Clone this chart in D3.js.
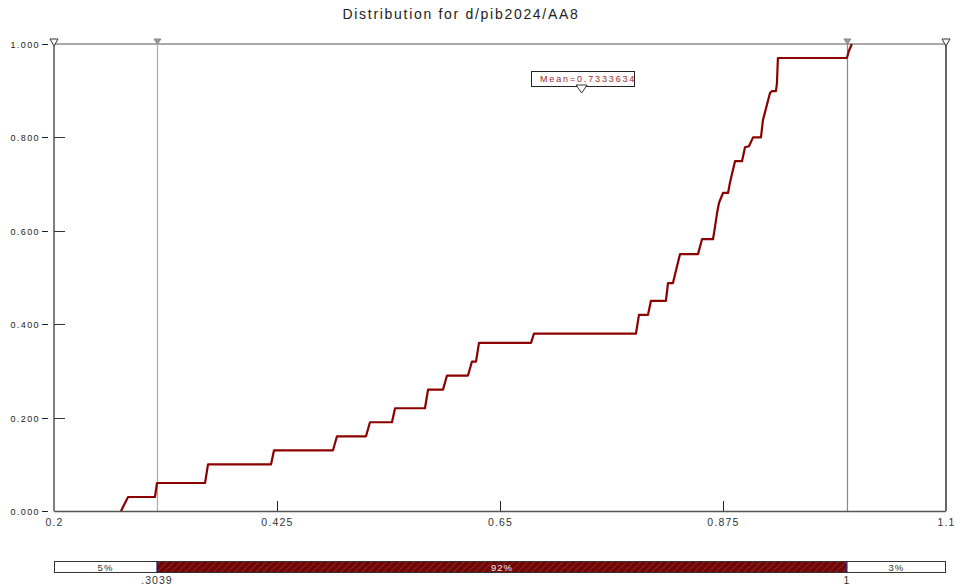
<!DOCTYPE html>
<html>
<head>
<meta charset="utf-8">
<script src="https://cdn.jsdelivr.net/npm/d3@7"></script>
<style>
  html, body { margin: 0; padding: 0; background: #fff; }
  svg { display: block; font-family: "Liberation Sans", Arial, sans-serif; }
</style>
</head>
<body>
<svg id="chart" width="955" height="586"></svg>
<script>
// ---------- data ----------
const titleText = "Distribution for d/pib2024/AA8";
const cdfX = [0.2676, 0.2747, 0.3019, 0.3039, 0.3524, 0.3554, 0.4190, 0.4220, 0.4815, 0.4855,
              0.5148, 0.5188, 0.5410, 0.5441, 0.5743, 0.5774, 0.5925, 0.5965, 0.6177, 0.6217,
              0.6258, 0.6288, 0.6813, 0.6843, 0.7872, 0.7902, 0.7993, 0.8023, 0.8174, 0.8195,
              0.8245, 0.8316, 0.8498, 0.8538, 0.8649, 0.8669, 0.8690, 0.8710, 0.8750, 0.8801,
              0.8821, 0.8871, 0.8942, 0.8972, 0.9012, 0.9053, 0.9133, 0.9153, 0.9224, 0.9244,
              0.9284, 0.9294, 0.9304, 1.0000, 1.0020, 1.0050];
const cdfY = [0.000, 0.030, 0.030, 0.060, 0.060, 0.100, 0.100, 0.130, 0.130, 0.160,
              0.160, 0.190, 0.190, 0.220, 0.220, 0.260, 0.260, 0.290, 0.290, 0.320,
              0.320, 0.360, 0.360, 0.380, 0.380, 0.420, 0.420, 0.450, 0.450, 0.488,
              0.488, 0.550, 0.550, 0.582, 0.582, 0.608, 0.638, 0.660, 0.681, 0.681,
              0.704, 0.749, 0.749, 0.779, 0.781, 0.800, 0.800, 0.837, 0.895, 0.899,
              0.899, 0.915, 0.970, 0.970, 0.985, 1.000];
const xTicks = [0.2, 0.425, 0.65, 0.875, 1.1];
const xTickLabels = ["0.2", "0.425", "0.65", "0.875", "1.1"];
const yTicks = [0, 0.2, 0.4, 0.6, 0.8, 1.0];
const yTickLabels = ["0.000", "0.200", "0.400", "0.600", "0.800", "1.000"];
const meanValue = 0.7333634;
const meanLabel = "Mean=0.7333634";
const cutLow = 0.3039, cutHigh = 1;
const cutLabels = [".3039", "1"];
const bandPercents = ["5%", "92%", "3%"];

// ---------- layout ----------
const svg = d3.select("#chart");
const L = 54, R = 946, T = 44, B = 511;
const x = d3.scaleLinear().domain([0.2, 1.1]).range([L, R]);
const y = d3.scaleLinear().domain([0, 1]).range([B, T]);
const axisCol = "#555";
const curveCol = "#8b0000";

// title
svg.append("text").attr("x", 461).attr("y", 19).attr("text-anchor", "middle")
  .attr("font-size", 14).attr("fill", "#222").attr("letter-spacing", "1.7px").text(titleText);

// frame lines (top, right)
svg.append("line").attr("x1", L).attr("x2", R).attr("y1", T).attr("y2", T).attr("stroke", axisCol).attr("stroke-width", 1);
svg.append("line").attr("x1", R).attr("x2", R).attr("y1", T).attr("y2", B).attr("stroke", "#333").attr("stroke-width", 1.5);

// vertical cut lines
[cutLow, cutHigh].forEach(v => {
  svg.append("line").attr("x1", Math.round(x(v)) + 0.5).attr("x2", Math.round(x(v)) + 0.5)
    .attr("y1", T - 3).attr("y2", B).attr("stroke", v === cutLow ? "#aaa" : "#888").attr("stroke-width", 1.2);
});

// y axis
const yAxis = svg.append("g").attr("transform", `translate(${L},0)`);
yAxis.append("line").attr("x1", 0).attr("x2", 0).attr("y1", T).attr("y2", B).attr("stroke", axisCol).attr("stroke-width", 1.5);
yTicks.forEach((t, i) => {
  const yy = Math.round(y(t)) + 0.5;
  yAxis.append("line").attr("x1", -12).attr("x2", -6).attr("y1", yy).attr("y2", yy).attr("stroke", "#222");
  if (t > 0 && t < 1) yAxis.append("line").attr("x1", 0).attr("x2", 11).attr("y1", yy).attr("y2", yy).attr("stroke", "#333");
  yAxis.append("text").attr("x", -14).attr("y", yy + 3).attr("text-anchor", "end")
    .attr("font-size", 9).attr("letter-spacing", "1.4px").attr("fill", "#222").text(yTickLabels[i]);
});

// x axis
const xAxis = svg.append("g");
xAxis.append("line").attr("x1", L).attr("x2", R).attr("y1", B + 0.5).attr("y2", B + 0.5).attr("stroke", axisCol).attr("stroke-width", 1.5);
xTicks.forEach((t, i) => {
  const xx = Math.round(x(t)) + 0.5;
  if (i > 0 && i < xTicks.length - 1)
    xAxis.append("line").attr("x1", xx).attr("x2", xx).attr("y1", B - 10).attr("y2", B).attr("stroke", "#222");
  xAxis.append("text").attr("x", xx).attr("y", B + 15).attr("text-anchor", "middle")
    .attr("font-size", 10.5).attr("letter-spacing", "1.2px").attr("fill", "#333").text(xTickLabels[i]);
});

// top markers: hollow triangles at corners, gray at cut lines
function tri(cx, cy, w, h, fill, stroke) {
  svg.append("path").attr("d", `M${cx - w / 2},${cy} L${cx + w / 2},${cy} L${cx},${cy + h} Z`)
    .attr("fill", fill).attr("stroke", stroke).attr("stroke-width", 1);
}
tri(L, T - 5, 8, 7, "#fff", "#333");
tri(R, T - 5, 8, 7, "#fff", "#333");
tri(x(cutLow) + 0.5, T - 5, 7, 5, "#999", "#888");
tri(x(cutHigh) + 0.5, T - 5, 7, 5, "#999", "#888");

// curve
const line = d3.line().x((d, i) => x(cdfX[i])).y((d, i) => y(cdfY[i]));
svg.append("path").datum(cdfX).attr("d", line).attr("fill", "none")
  .attr("stroke", curveCol).attr("stroke-width", 2.2).attr("stroke-linejoin", "round");

// mean box
const mx = x(meanValue);
svg.append("rect").attr("x", 531.5).attr("y", 71.5).attr("width", 103).attr("height", 15)
  .attr("fill", "#fff").attr("stroke", "#222").attr("stroke-width", 1);
svg.append("text").attr("x", 540).attr("y", 82).attr("font-size", 9).attr("letter-spacing", "1.85px")
  .attr("fill", "#a0282a").text(meanLabel);
tri(mx - 1, 85, 11, 8, "#fff", "#333");

// bottom band
const defs = svg.append("defs");
const pat = defs.append("pattern").attr("id", "hatch").attr("patternUnits", "userSpaceOnUse")
  .attr("width", 5).attr("height", 5).attr("patternTransform", "rotate(45)");
pat.append("rect").attr("width", 5).attr("height", 5).attr("fill", "#7a0000");
pat.append("line").attr("x1", 0).attr("x2", 0).attr("y1", 0).attr("y2", 5)
  .attr("stroke", "#3f7f7f").attr("stroke-width", 0.9);

const bY = 561, bH = 12;
const segs = [[0.2, cutLow], [cutLow, cutHigh], [cutHigh, 1.1]];
segs.forEach((s, i) => {
  svg.append("rect").attr("x", x(s[0])).attr("y", bY).attr("width", x(s[1]) - x(s[0])).attr("height", bH)
    .attr("fill", i === 1 ? "url(#hatch)" : "#fff").attr("stroke", "none");
  svg.append("text").attr("x", (x(s[0]) + x(s[1])) / 2).attr("y", bY + 9.5).attr("text-anchor", "middle")
    .attr("font-size", 9.5).attr("letter-spacing", "1px").attr("fill", i === 1 ? "#eee" : "#333").text(bandPercents[i]);
});
svg.append("rect").attr("x", L + 0.5).attr("y", bY + 0.5).attr("width", R - L - 1).attr("height", bH - 1)
  .attr("fill", "none").attr("stroke", "#333").attr("stroke-width", 1);
[cutLow, cutHigh].forEach(v => {
  svg.append("line").attr("x1", x(v)).attr("x2", x(v)).attr("y1", bY).attr("y2", bY + bH).attr("stroke", "#1a1a7a").attr("stroke-width", 1.2);
});
[cutLow, cutHigh].forEach((v, i) => {
  svg.append("text").attr("x", x(v)).attr("y", bY + 23).attr("text-anchor", "middle")
    .attr("font-size", 10.5).attr("letter-spacing", "1px").attr("fill", "#333").text(cutLabels[i]);
});
</script>
</body>
</html>
